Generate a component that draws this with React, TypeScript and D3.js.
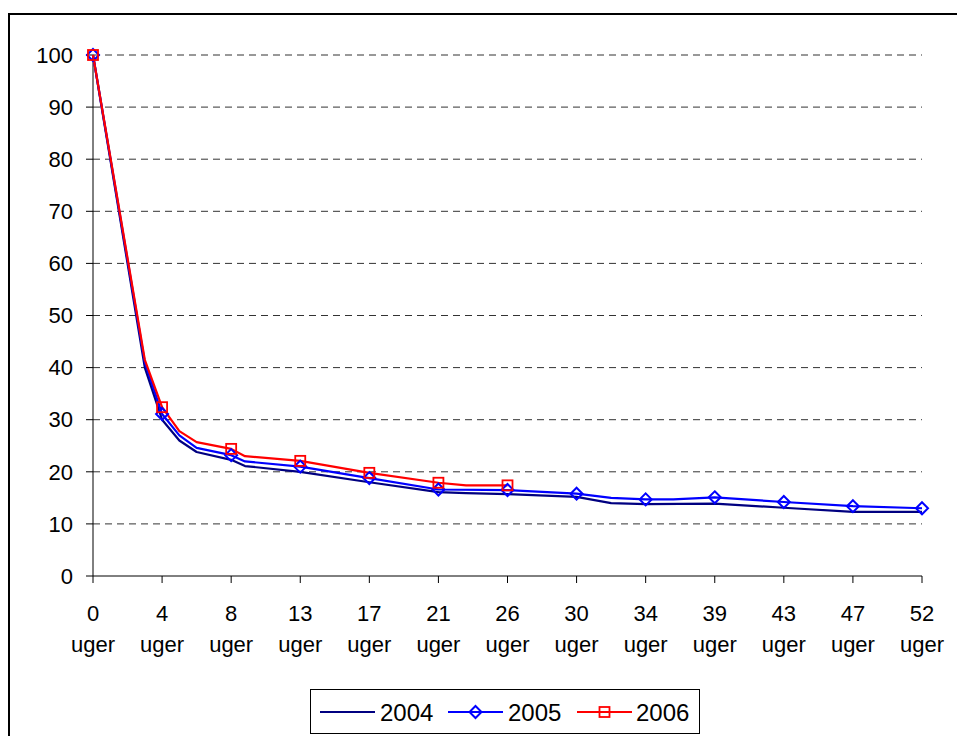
import React from "react";
import * as d3 from "d3";

const tickWeeks = [0, 4, 8, 13, 17, 21, 26, 30, 34, 39, 43, 47, 52];
const yTicks = [0, 10, 20, 30, 40, 50, 60, 70, 80, 90, 100];

const weeks2004 = [0, 3, 4, 5, 6, 8, 9, 13, 17, 21, 23, 26, 30, 32, 34, 39, 43, 47, 52];
const values2004 = [100, 40, 30, 26, 23.8, 22.3, 21.1, 20.0, 18.0, 16.1, 15.9, 15.7, 15.2, 14.0, 13.8, 13.9, 13.1, 12.3, 12.3];

const weeks2005 = [0, 3, 4, 5, 6, 8, 9, 13, 17, 21, 26, 30, 32, 34, 36, 39, 43, 47, 52];
const values2005 = [100, 41, 31.1, 27, 24.6, 23.2, 22.0, 21.0, 18.8, 16.6, 16.5, 15.8, 15.0, 14.7, 14.7, 15.1, 14.2, 13.4, 13.0];
const markerWeeks2005 = [0, 4, 8, 13, 17, 21, 26, 30, 34, 39, 43, 47, 52];

const weeks2006 = [0, 3, 4, 5, 6, 8, 9, 13, 17, 21, 23, 26];
const values2006 = [100, 41.5, 32.4, 27.8, 25.7, 24.4, 23.0, 22.1, 19.8, 17.9, 17.4, 17.4];
const markerWeeks2006 = [0, 4, 8, 13, 17, 21, 26];

const series = [
  { name: "2004", color: "#000080", weeks: weeks2004, values: values2004, markers: [] as number[], marker: "none" },
  { name: "2005", color: "#0000FF", weeks: weeks2005, values: values2005, markers: markerWeeks2005, marker: "diamond" },
  { name: "2006", color: "#FF0000", weeks: weeks2006, values: values2006, markers: markerWeeks2006, marker: "square" },
];

const FONT = "'Liberation Sans', Arial, sans-serif";

export default function App() {
  const x0 = 93, x1 = 922, yTop = 55, yBot = 576;
  const idx = d3.scalePoint<number>().domain(tickWeeks).range([x0, x1]);
  const xw = d3.scaleLinear().domain(tickWeeks).range(tickWeeks.map((w) => idx(w) as number));
  const y = d3.scaleLinear().domain([0, 100]).range([yBot, yTop]);

  const line = (ws: number[], vs: number[]) =>
    d3.line<number>().x((_, i) => xw(ws[i])).y((v) => y(v))(vs) || "";

  const valueAt = (s: typeof series[0], w: number) => s.values[s.weeks.indexOf(w)];

  const drawMarker = (type: string, cx: number, cy: number, color: string, key: string) => {
    if (type === "diamond") {
      const r = 6;
      return (
        <path key={key} d={`M${cx},${cy - r}L${cx + r},${cy}L${cx},${cy + r}L${cx - r},${cy}Z`}
          fill="none" stroke={color} strokeWidth={2} />
      );
    }
    if (type === "square") {
      const r = 5;
      return <rect key={key} x={cx - r} y={cy - r} width={2 * r} height={2 * r} fill="none" stroke={color} strokeWidth={1.8} />;
    }
    return null;
  };

  const legendItems = [
    { s: series[0], lx: 320, tx: 380 },
    { s: series[1], lx: 448, tx: 508 },
    { s: series[2], lx: 577, tx: 636 },
  ];

  return (
    <svg width={957} height={736} style={{ position: "fixed", left: 0, top: 0, background: "#fff" }} fontFamily={FONT}>
      <rect x={0} y={0} width={957} height={736} fill="#fff" />
      <rect x={9} y={14} width={960} height={740} fill="none" stroke="#000" strokeWidth={2} />

      {/* gridlines */}
      {yTicks.filter((t) => t > 0).map((t) => (
        <line key={"g" + t} x1={x0} x2={x1} y1={y(t)} y2={y(t)} stroke="#333" strokeWidth={1} strokeDasharray="7,5" />
      ))}

      {/* axes */}
      <line x1={x0} x2={x0} y1={yTop} y2={yBot} stroke="#000" strokeWidth={1} />
      <line x1={x0} x2={x1} y1={yBot} y2={yBot} stroke="#000" strokeWidth={1} />
      {yTicks.map((t) => (
        <g key={"yt" + t}>
          <line x1={x0 - 7} x2={x0} y1={y(t)} y2={y(t)} stroke="#000" />
          <text x={73} y={y(t)} dy="0.35em" textAnchor="end" fontSize={22} fill="#000">{t}</text>
        </g>
      ))}
      {tickWeeks.map((w) => (
        <g key={"xt" + w}>
          <line x1={idx(w)} x2={idx(w)} y1={yBot} y2={yBot + 7} stroke="#000" />
          <text x={idx(w)} y={621} textAnchor="middle" fontSize={22} fill="#000">{w}</text>
          <text x={idx(w)} y={652} textAnchor="middle" fontSize={22} fill="#000">uger</text>
        </g>
      ))}

      {/* series */}
      {series.map((s) => (
        <path key={s.name} d={line(s.weeks, s.values)} fill="none" stroke={s.color} strokeWidth={2.2} strokeLinejoin="round" />
      ))}
      {series.map((s) =>
        s.markers.map((w) => drawMarker(s.marker, xw(w), y(valueAt(s, w)), s.color, s.name + "m" + w))
      )}

      {/* legend */}
      <rect x={310.5} y={689.5} width={389} height={44} fill="#fff" stroke="#000" strokeWidth={1} />
      {legendItems.map(({ s, lx, tx }) => (
        <g key={"lg" + s.name}>
          <line x1={lx} x2={lx + 55} y1={712} y2={712} stroke={s.color} strokeWidth={2} />
          {drawMarker(s.marker, lx + 27.5, 712, s.color, "lm" + s.name)}
          <text x={tx} y={712} dy="0.36em" fontSize={24} fill="#000">{s.name}</text>
        </g>
      ))}
    </svg>
  );
}
